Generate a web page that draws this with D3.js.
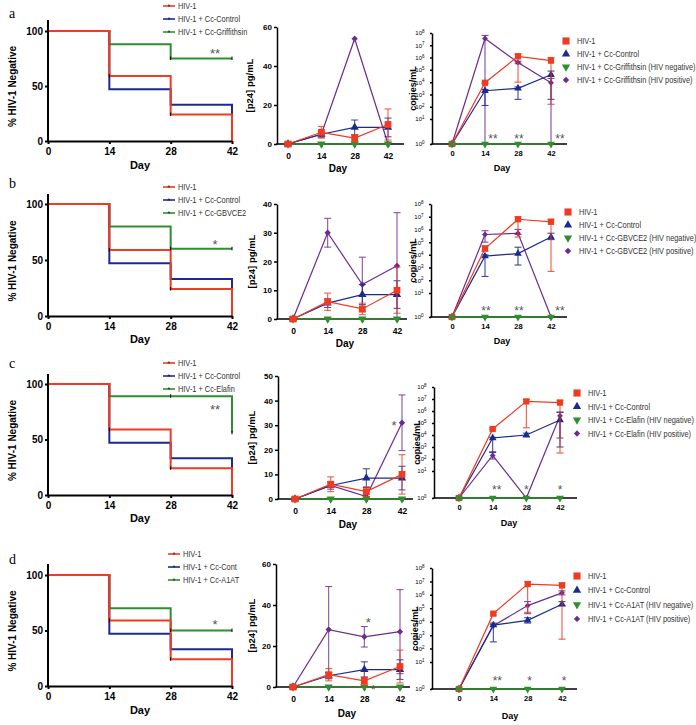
<!DOCTYPE html>
<html><head><meta charset="utf-8">
<script src="https://cdn.jsdelivr.net/npm/d3@7"></script>
<style>body{margin:0;background:#fff}</style>
</head><body><svg id="c" width="696" height="725"></svg>
<script>
// ---------------- DATA ----------------
const days=[0,14,28,42];
const panelLetters=['a','b','c','d'];
const treatNames=['Griffithsin','GBVCE2','Elafin','A1AT'];
const kmLegendCtrl=['HIV-1 + Cc-Control','HIV-1 + Cc-Control','HIV-1 + Cc-Control','HIV-1 + Cc-Cont'];
// Kaplan-Meier: % HIV-1 negative
const kmHiv=[100,59,24,0];
const kmControl=[100,47,33,0];
const kmTreat=[[100,88,75,75],[100,80,60,60],[100,89,89,56],[100,70,50,50]];
const kmStars=['**','*','**','*'];
const kmStarValue=[82,67,80,58];
// p24 pg/mL (mean, error)
const p24Max=[60,40,50,60];
const p24Step=[20,10,10,20];
const p24Hiv=[[0,6,3,10],[0,6,3.5,10],[0,6,3,10],[0,6,3,10]];
const p24HivErr=[[0.6,3,1.8,8],[0.6,3,2,8],[0.6,3,2,8],[0.6,3,2,8]];
const p24Control=[[0,5,8.5,8.5],[0,5.5,8.5,8.5],[0,5.5,8.5,8.5],[0,5.5,8.5,8.5]];
const p24ControlErr=[[0,1.5,3.8,4.8],[0,1.5,3.5,4.8],[0,1.5,3.8,4.8],[0,1.5,3.8,4.8]];
const p24Neg=[[0,0,0,0],[0,0,0,0],[0,0,0,0],[0,0,0,0]];
const p24Pos=[[0,5,54,0],[0,30,12,18.5],[0,5.5,1,31],[0,28,24.5,27]];
const p24PosErr=[[0,0,0,0],[0,5,9.5,18.5],[0,0,0,11.3],[0,21,5,20.5]];
// p24 star annotations: [day, value, label]
const p24StarNotes=[[],[],[[42,31,'*']],[[28,33,'*'],[28,0.5,'*']]];
// viral load copies/mL, log10 exponents (mean, low, high)
const cpHiv=[[0,3.95,6.1,5.75],[0,4.5,6.8,6.6],[0,4.5,6.8,6.7],[0,4.6,6.8,6.7]];
const cpHivLo=[[0,3.9,4.0,2.2],[0,4.3,5.4,2.7],[0,4.45,4.6,2.5],[0,4.5,4.7,2.7]];
const cpHivHi=[[0,4.0,6.3,6.0],[0,4.7,7.0,6.8],[0,4.6,6.95,6.9],[0,4.7,7.0,6.9]];
const cpControl=[[0,3.3,3.5,4.6],[0,3.9,4.1,5.4],[0,3.75,4.0,5.25],[0,3.75,4.1,5.3]];
const cpControlLo=[[0,2.1,2.6,2.6],[0,2.3,3.2,5.2],[0,2.55,3.85,3.0],[0,2.5,3.9,5.2]];
const cpControlHi=[[0,3.4,3.6,4.9],[0,4.0,4.6,5.7],[0,3.8,4.15,5.9],[0,3.9,4.3,5.5]];
const cpNeg=[[0,0,0,0],[0,0,0,0],[0,0,0,0],[0,0,0,0]];
const cpPos=[[0,7.55,5.6,3.95],[0,5.6,5.7,0],[0,2.3,0,5.6],[0,3.7,5.2,6.15]];
const cpPosLo=[[0,0,5.5,0],[0,5.0,5.6,0],[0,2.0,0,3.75],[0,3.65,4.6,6.0]];
const cpPosHi=[[0,7.8,5.7,4.3],[0,5.9,6.0,0],[0,2.6,0,5.9],[0,3.8,5.5,6.3]];
const cpStars=[['**','**','**'],['**','**','**'],['**','*','*'],['**','*','*']];
const cpTicks=[1,10,1e2,1e3,1e4,1e5,1e6,1e7,1e8];

// ---------------- LAYOUT / STYLE ----------------
const FONT='"Liberation Sans", Arial, Helvetica, sans-serif';
const COL={red:'#ef3b22',blue:'#1b2a8e',green:'#2f8f2f',purple:'#6b2b8f',star:'#555'};
const kmL=[
 {top:20,y100:31,y0:141,legY:6,legX:163,letterY:18,dayY:169,clip:false},
 {top:194,y100:204,y0:316,legY:187,legX:163,letterY:188,dayY:343,clip:false},
 {top:374,y100:384,y0:495,legY:363,legX:163,letterY:368,dayY:522,clip:false},
 {top:564,y100:575,y0:686,legY:554,legX:168,letterY:564,dayY:714,clip:true}];
const pL=[
 {x0:277,xEnd:404,t0:288,t42:388,yTop:27,yBot:144,labX:250,dayX:338,dayY:172},
 {x0:277,xEnd:407,t0:293,t42:397,yTop:204,yBot:319,labX:252,dayX:345,dayY:347},
 {x0:278,xEnd:413,t0:295,t42:402,yTop:376,yBot:499,labX:252,dayX:348,dayY:528},
 {x0:276,xEnd:410,t0:293,t42:400,yTop:564,yBot:687,labX:252,dayX:347,dayY:717}];
const cL=[
 {x0:432,xEnd:567,t0:452,t42:551,y0:144,y1:119,y8:33,labX:415,dayX:502,dayY:171,legX:566,legY:41,legDy:13,starDy:-8,starDx:[8,1,9]},
 {x0:431,xEnd:567,t0:452,t42:551,y0:317,y1:293,y8:204,labX:415,dayX:502,dayY:344,legX:568,legY:212,legDy:13,starDy:-9,starDx:[1,1,9]},
 {x0:434,xEnd:577,t0:459,t42:560,y0:498,y1:471,y8:387,labX:419,dayX:509,dayY:526,legX:577,legY:393,legDy:13.5,starDy:-11,starDx:[4,0,0]},
 {x0:432,xEnd:577,t0:459,t42:562,y0:689,y1:662,y8:568,labX:417,dayX:510,dayY:719,legX:577,legY:576,legDy:14.3,starDy:-11,starDx:[4,2,2]}];
const LEG_FONT=9, LEG_SQUEEZE=0.82;

const svg=d3.select('#c');
svg.append('defs').append('clipPath').attr('id','kmclip').append('rect').attr('x',0).attr('y',0).attr('width',245).attr('height',725);

function styleAxis(g,size,sw){
  g.attr('font-family',FONT).attr('font-size',size).attr('font-weight','bold');
  g.selectAll('path,line').attr('stroke','#000').attr('stroke-width',sw);
  g.selectAll('text').attr('fill','#000');
}
function legendText(g,x,y,t){
  g.append('text').attr('transform',`translate(${x},${y}) scale(${LEG_SQUEEZE},1)`)
   .attr('font-family',FONT).attr('font-size',LEG_FONT).attr('fill','#333').text(t);
}
const symSquare=d3.symbol().type(d3.symbolSquare);
const symTri=d3.symbol().type(d3.symbolTriangle);
function marker(g,kind,color,x,y,scale){
  let p, r=0;
  if(kind==='square') p=g.append('path').attr('d',symSquare.size(46*scale)());
  else if(kind==='tri') p=g.append('path').attr('d',symTri.size(30*scale)());
  else if(kind==='triDown'){ p=g.append('path').attr('d',symTri.size(30*scale)()); r=180; }
  else { p=g.append('path').attr('d',symSquare.size(20*scale)()); r=45; }
  p.attr('transform',`translate(${x},${y}) rotate(${r})`).attr('fill',color);
  return p;
}
function starText(g,x,y,label,size){
  g.append('text').attr('x',x).attr('y',y).attr('dy','0.58em').attr('text-anchor','middle')
   .attr('font-family',FONT).attr('font-size',size).attr('fill',COL.star).text(label);
}

for(let r=0;r<4;r++){
  // ===== Kaplan-Meier panel =====
  const L=kmL[r];
  const g=svg.append('g');
  const x=d3.scaleLinear().domain([0,42]).range([48,232]);
  const y=d3.scaleLinear().domain([0,100]).range([L.y0,L.y100]);
  g.append('text').attr('x',9).attr('y',L.letterY).attr('font-family','"Liberation Serif","Times New Roman",serif').attr('font-size',14).text(panelLetters[r]);
  const ln=d3.line().x((d,i)=>x(days[i])).y(d=>y(d)).curve(d3.curveStepAfter);
  const kmSeries=[[kmTreat[r],COL.green],[kmControl,COL.blue],[kmHiv,COL.red]];
  kmSeries.forEach(([v,c])=>g.append('path').attr('d',ln(v)).attr('fill','none').attr('stroke',c).attr('stroke-width',2));
  [[kmHiv,[1,2]],[kmTreat[r],[2,3]]].forEach(([v,idx])=>idx.forEach(i=>{
    g.append('line').attr('x1',x(days[i])).attr('x2',x(days[i])).attr('y1',y(v[i])-2).attr('y2',y(v[i])+1.5).attr('stroke','#000').attr('stroke-width',1);
  }));
  const ya=g.append('g').attr('transform','translate(48,0)').call(d3.axisLeft(y).tickValues([0,50,100]).tickSize(3).tickPadding(2).tickSizeOuter(0));
  ya.select('.domain').remove();
  styleAxis(ya,10,2);
  g.append('line').attr('x1',48).attr('x2',48).attr('y1',L.top).attr('y2',L.y0+1).attr('stroke','#000').attr('stroke-width',2);
  const xa=g.append('g').attr('transform',`translate(0,${L.y0})`).call(d3.axisBottom(x).tickValues(days).tickSize(3).tickPadding(4).tickSizeOuter(0));
  styleAxis(xa,10,2);
  g.append('text').attr('x',140).attr('y',L.dayY).attr('text-anchor','middle').attr('font-family',FONT).attr('font-weight','bold').attr('font-size',11).text('Day');
  g.append('text').attr('transform',`translate(16,${(L.top+L.y0)/2+6}) rotate(-90)`).attr('text-anchor','middle').attr('font-family',FONT).attr('font-weight','bold').attr('font-size',10).text('% HIV-1 Negative');
  starText(g,x(42)-17,y(kmStarValue[r]),kmStars[r],13);
  const lg=g.append('g');
  if(L.clip) lg.attr('clip-path','url(#kmclip)');
  const kmLegend=[['HIV-1',COL.red],[kmLegendCtrl[r],COL.blue],['HIV-1 + Cc-'+treatNames[r],COL.green]];
  kmLegend.forEach(([t,c],i)=>{
    const yy=L.legY+i*13;
    lg.append('line').attr('x1',L.legX).attr('x2',L.legX+12).attr('y1',yy).attr('y2',yy).attr('stroke',c).attr('stroke-width',1.6);
    lg.append('line').attr('x1',L.legX+6).attr('x2',L.legX+6).attr('y1',yy-1.5).attr('y2',yy+0.5).attr('stroke','#000').attr('stroke-width',1);
    legendText(lg,L.legX+15,yy+3,t);
  });

  // ===== p24 panel =====
  const P=pL[r];
  const gp=svg.append('g');
  const px=d3.scaleLinear().domain([0,42]).range([P.t0,P.t42]);
  const py=d3.scaleLinear().domain([0,p24Max[r]]).range([P.yBot,P.yTop]);
  const pya=gp.append('g').attr('transform',`translate(${P.x0},0)`).call(d3.axisLeft(py).tickValues(d3.range(0,p24Max[r]+0.1,p24Step[r])).tickSize(3).tickPadding(2).tickSizeOuter(0));
  styleAxis(pya,8,1.5);
  const pxa=gp.append('g').attr('transform',`translate(0,${P.yBot})`).call(d3.axisBottom(px).tickValues(days).tickSize(3).tickPadding(6).tickSizeOuter(0));
  pxa.select('.domain').remove();
  styleAxis(pxa,8.5,1.5);
  gp.append('line').attr('x1',P.x0-0.75).attr('x2',P.xEnd).attr('y1',P.yBot).attr('y2',P.yBot).attr('stroke','#000').attr('stroke-width',1.5);
  gp.append('text').attr('x',P.dayX).attr('y',P.dayY).attr('text-anchor','middle').attr('font-family',FONT).attr('font-weight','bold').attr('font-size',10).text('Day');
  gp.append('text').attr('transform',`translate(${P.labX+3},${(P.yTop+P.yBot)/2}) rotate(-90)`).attr('text-anchor','middle').attr('font-family',FONT).attr('font-weight','bold').attr('font-size',9.5).text('[p24] pg/mL');
  const pSeries=[
    {v:p24Pos[r],e:p24PosErr[r],c:COL.purple,k:'diamond'},
    {v:p24Neg[r],e:null,c:COL.green,k:'triDown'},
    {v:p24Control[r],e:p24ControlErr[r],c:COL.blue,k:'tri'},
    {v:p24Hiv[r],e:p24HivErr[r],c:COL.red,k:'square'}];
  const pln=d3.line().x((d,i)=>px(days[i])).y(d=>py(d));
  pSeries.forEach(s=>{
    gp.append('path').attr('d',pln(s.v)).attr('fill','none').attr('stroke',s.c).attr('stroke-width',s.k==='triDown'?1.6:1.2);
    if(s.e) s.v.forEach((m,i)=>{ if(s.e[i]<=0) return;
      const xx=px(days[i]),y1=py(Math.max(0,m-s.e[i])),y2=py(m+s.e[i]);
      gp.append('line').attr('x1',xx).attr('x2',xx).attr('y1',y1).attr('y2',y2).attr('stroke',s.c).attr('stroke-width',1.1).attr('opacity',0.8);
      [y1,y2].forEach(yy=>gp.append('line').attr('x1',xx-3.5).attr('x2',xx+3.5).attr('y1',yy).attr('y2',yy).attr('stroke',s.c).attr('stroke-width',1.1).attr('opacity',0.8));
    });
    s.v.forEach((m,i)=>marker(gp,s.k,s.c,px(days[i]),py(m),1));
  });
  p24StarNotes[r].forEach(([d,v,t],i)=>starText(gp,px(d)+(r===2?-8:(i===0?4:9)),py(v),t,13));

  // ===== copies panel =====
  const Q=cL[r];
  const gc=svg.append('g');
  const cx=d3.scaleLinear().domain([0,42]).range([Q.t0,Q.t42]);
  const cy=d3.scaleLog().domain([1,10,1e8]).range([Q.y0,Q.y1,Q.y8]);
  const cya=gc.append('g').attr('transform',`translate(${Q.x0},0)`).call(d3.axisLeft(cy).tickValues(cpTicks).tickFormat(()=>'').tickSize(2).tickPadding(3).tickSizeOuter(0));
  styleAxis(cya,6,1.5);
  cya.selectAll('.tick text').each(function(d){
    const t=d3.select(this); t.attr('dx','-2.5').attr('font-weight','normal').text('10');
    t.append('tspan').attr('dy','-0.5em').attr('font-size',4.5).text(Math.round(Math.log10(d)));
  });
  const cxa=gc.append('g').attr('transform',`translate(0,${Q.y0})`).call(d3.axisBottom(cx).tickValues(days).tickSize(0).tickPadding(7).tickSizeOuter(0));
  cxa.select('.domain').remove();
  styleAxis(cxa,7.5,1.5);
  gc.append('line').attr('x1',Q.x0-0.75).attr('x2',Q.xEnd).attr('y1',Q.y0).attr('y2',Q.y0).attr('stroke','#000').attr('stroke-width',1.5);
  gc.append('text').attr('x',Q.dayX).attr('y',Q.dayY).attr('text-anchor','middle').attr('font-family',FONT).attr('font-weight','bold').attr('font-size',9).text('Day');
  gc.append('text').attr('transform',`translate(${Q.labX+1},${(Q.y8+Q.y0)/2}) rotate(-90)`).attr('text-anchor','middle').attr('font-family',FONT).attr('font-weight','bold').attr('font-size',9).text('copies/mL');
  const pw=e=>Math.pow(10,e);
  const cSeries=[
    {v:cpPos[r],lo:cpPosLo[r],hi:cpPosHi[r],c:COL.purple,k:'diamond'},
    {v:cpControl[r],lo:cpControlLo[r],hi:cpControlHi[r],c:COL.blue,k:'tri'},
    {v:cpHiv[r],lo:cpHivLo[r],hi:cpHivHi[r],c:COL.red,k:'square'},
    {v:cpNeg[r],lo:null,hi:null,c:COL.green,k:'triDown'}];
  const cln=d3.line().x((d,i)=>cx(days[i])).y(d=>cy(pw(d)));
  cSeries.forEach(s=>{
    gc.append('path').attr('d',cln(s.v)).attr('fill','none').attr('stroke',s.c).attr('stroke-width',s.k==='triDown'?1.6:1.2);
    if(s.lo) s.v.forEach((m,i)=>{ if(s.hi[i]-s.lo[i]<=0.02) return;
      const xx=cx(days[i]),y1=cy(pw(s.lo[i])),y2=cy(pw(s.hi[i]));
      gc.append('line').attr('x1',xx).attr('x2',xx).attr('y1',y1).attr('y2',y2).attr('stroke',s.c).attr('stroke-width',1.1).attr('opacity',0.85);
      [y1,y2].forEach(yy=>gc.append('line').attr('x1',xx-3.5).attr('x2',xx+3.5).attr('y1',yy).attr('y2',yy).attr('stroke',s.c).attr('stroke-width',1.1).attr('opacity',0.85));
    });
    s.v.forEach((m,i)=>marker(gc,s.k,s.c,cx(days[i]),cy(pw(m)),0.85));
  });
  cpStars[r].forEach((t,i)=>starText(gc,cx(days[i+1])+Q.starDx[i],Q.y0+Q.starDy,t,12));
  const cLeg=[['HIV-1',COL.red,'square'],['HIV-1 + Cc-Control',COL.blue,'tri'],
    ['HIV-1 + Cc-'+treatNames[r]+' (HIV negative)',COL.green,'triDown'],['HIV-1 + Cc-'+treatNames[r]+' (HIV positive)',COL.purple,'diamond']];
  cLeg.forEach(([t,c,k],i)=>{
    const yy=Q.legY+i*Q.legDy;
    marker(gc,k,c,Q.legX,yy,k==='square'?1.1:1);
    legendText(gc,Q.legX+11,yy+3,t);
  });
}
</script></body></html>
